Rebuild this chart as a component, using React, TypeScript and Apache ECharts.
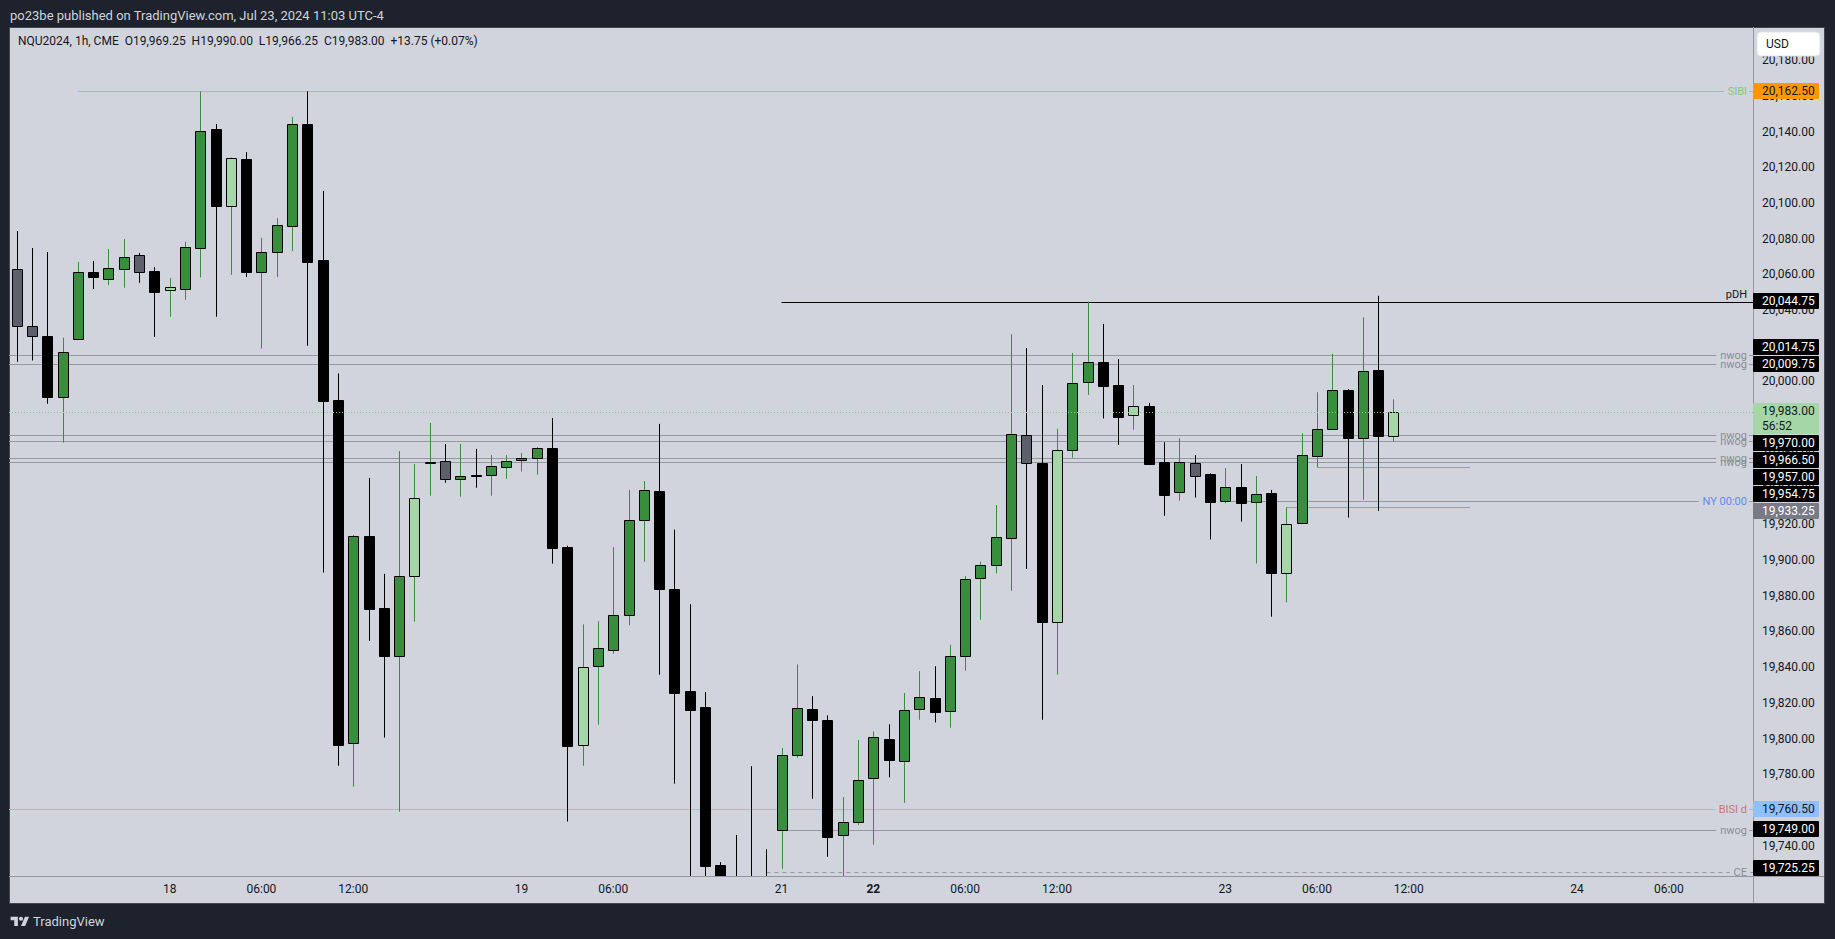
import React, { useEffect, useRef } from "react";
import * as echarts from "echarts";

const W = 1835;
const H = 939;
const FONT = "Roboto, 'Liberation Sans', sans-serif";

// ---------------- time axis (hourly CME bars) ----------------
function buildCategories(): string[] {
  const out: string[] = [];
  const pad = (n: number) => String(n).padStart(2, "0");
  for (let day = 17; day <= 24 && out.length < 114; day++) {
    for (let h = 0; h < 24 && out.length < 114; h++) {
      if (day === 17 && h < 13) continue;
      if (h === 17) continue; // daily break
      if (day === 19 && h > 17) continue; // friday close
      if (day === 20) continue; // saturday
      if (day === 21 && h < 18) continue; // sunday open
      out.push(`07-${pad(day)} ${pad(h)}:00`);
    }
  }
  return out;
}
const categories = buildCategories();

const tickLabelCats = [
  "07-18 00:00", "07-18 06:00", "07-18 12:00", "07-19 00:00", "07-19 06:00",
  "07-21 18:00", "07-22 00:00", "07-22 06:00", "07-22 12:00", "07-23 00:00",
  "07-23 06:00", "07-23 12:00", "07-24 00:00", "07-24 06:00",
];
const tickLabelTexts = ["18", "06:00", "12:00", "19", "06:00", "21", "22", "06:00", "12:00", "23", "06:00", "12:00", "24", "06:00"];
const boldTickCats = ["07-22 00:00"];

// ---------------- candles ----------------
const opens = [
  20063, 20031.25, 20025.75, 19991.5, 20024, 20061.25, 20057.5, 20063.25, 20070.75, 20062,
  20051, 20052, 20075, 20141.5, 20098.5, 20124.5, 20061.5, 20072.75, 20087.25, 20144.5,
  20068, 19989.5, 19797.25, 19913.5, 19873, 19846, 19891.25, 19954.5, 19955.25, 19945.25,
  19947.5, 19947.5, 19952, 19956, 19957, 19962.5, 19907.5, 19796.25, 19840.5, 19849.5,
  19869, 19922.5, 19938.75, 19883.5, 19826.5, 19817.5, 19729, 19712, 19710, 19706,
  19748.5, 19790.5, 19816.5, 19810.25, 19745.75, 19753, 19777.75, 19800, 19787.25, 19816.5,
  19822.5, 19815.25, 19846, 19889.75, 19897, 19912.25, 19970, 19954.25, 19865, 19961.5,
  19999.5, 20010.75, 19998, 19981.5, 19986, 19954.75, 19938, 19954.25, 19948, 19933,
  19940.75, 19932.25, 19937.5, 19893, 19920.5, 19958, 19973.25, 19995, 19968.25, 20006.5,
  19969.25,
];
const highs = [
  20084.25, 20074.75, 20072.5, 20024.5, 20067, 20067.5, 20074.25, 20079.75, 20072, 20064,
  20058, 20078.25, 20162.5, 20144.25, 20125.5, 20128.5, 20080.5, 20091.5, 20148.25, 20162.5,
  20106.75, 20004.5, 19914, 19946, 19892.25, 19961, 19953.75, 19976.75, 19965, 19965,
  19962.25, 19958.75, 19958.75, 19960, 19963.25, 19979.5, 19908, 19864, 19865.75, 19907.25,
  19939.25, 19944.25, 19976.25, 19917, 19875.25, 19826, 19730.75, 19746, 19784.5, 19738,
  19794.75, 19841.5, 19823.75, 19813, 19767.25, 19799.25, 19804, 19808, 19825.5, 19837.75,
  19840.5, 19852.5, 19891, 19899, 19930.75, 20026.5, 20018.75, 19998, 19973.5, 20016,
  20044.75, 20032.25, 20012.5, 19998, 19988, 19966, 19968.25, 19958.75, 19948.5, 19951.5,
  19953.75, 19947, 19939.25, 19929.5, 19971, 19994, 20015.5, 19995.75, 20036, 20048,
  19990,
];
const lows = [
  20011, 20011.75, 19987.5, 19965.75, 20024, 20051.75, 20054, 20052.5, 20055.25, 20025,
  20036.25, 20045.75, 20058.25, 20036.25, 20059.75, 20058.5, 20018.5, 20058.5, 20073, 20020,
  19893, 19784.75, 19773, 19854.75, 19800.5, 19759, 19865.5, 19936, 19943.25, 19935.5,
  19940.5, 19936, 19945.5, 19949.5, 19947.75, 19898, 19753.5, 19784.75, 19807.75, 19847.5,
  19863.5, 19899, 19835.75, 19774.75, 19700, 19700, 19685, 19690, 19692, 19695,
  19727, 19789.25, 19766.25, 19733.75, 19721, 19751.5, 19740.5, 19778.25, 19764, 19810.5,
  19809, 19806, 19838, 19866.5, 19892.5, 19882.75, 19895, 19810.5, 19835.75, 19957.25,
  19992.5, 19979.25, 19964.5, 19973, 19953.5, 19924.75, 19933.25, 19935, 19911.5, 19931.75,
  19921.5, 19898, 19868.25, 19876.25, 19920.5, 19952, 19973.25, 19923.75, 19933.75, 19927.5,
  19966.25,
];
const closes = [
  20031.25, 20025.75, 19991.5, 20016.5, 20061.25, 20058.25, 20063.5, 20069.5, 20061.5, 20050.25,
  20052.75, 20075.25, 20140.25, 20098.5, 20125, 20061.5, 20072.5, 20087.5, 20144.5, 20067,
  19989.25, 19796.5, 19913.5, 19872.75, 19846.5, 19891, 19934.5, 19954.75, 19945.25, 19947,
  19947.25, 19952.5, 19955.25, 19957, 19962.5, 19907, 19796, 19840, 19850.5, 19869,
  19922.5, 19939, 19883.5, 19825.75, 19816, 19728.75, 19700, 19705, 19704, 19701.5,
  19790.5, 19817, 19810.5, 19745, 19753, 19777, 19800.75, 19787.75, 19815.75, 19823.5,
  19814.75, 19846, 19889.25, 19897, 19912.75, 19970.5, 19954.25, 19865, 19961.5, 19999,
  20010.75, 19997.5, 19980.25, 19986, 19954, 19936.5, 19954.75, 19947.25, 19932.75, 19940.75,
  19931.75, 19936.75, 19892.5, 19920, 19958.75, 19973.25, 19995.5, 19968.25, 20005.75, 19969.25,
  19983,
];
// u = up (green), d = down (black), g = down (grey), l = up (light green)
const candleKinds = (
  "ggduuduugd" + "luudlduuud" + "dduddulugu" + "duuuuddluu" + "uudddddddd" +
  "uudduuuduu" + "duuuuugdlu" + "uddlddugdu" + "dudluuudud" + "l"
).split("");

// ---------------- horizontal levels ----------------
const levelPrices = [20162.5, 20044.75, 20014.75, 20009.75, 19970, 19966.5, 19957, 19954.75, 19933.25, 19760.5, 19749, 19725.25];
const levelKinds = ["sibi", "pdh", "nwog", "nwog", "nwog", "nwog", "nwog", "nwog", "ny", "bisi", "nwog", "ce"];
const levelLabels = ["SIBI", "pDH", "nwog", "nwog", "nwog", "nwog", "nwog", "nwog", "NY 00:00", "BISI d", "nwog", "CE"];
const levelStarts: (string | null)[] = [
  "07-17 18:00", "07-21 18:00", null, null, null, null, null, null, "07-23 00:00", null, "07-21 18:00", "07-19 16:00",
];
const fvgPrices = [19952, 19929.5];
const fvgStarts = ["07-23 06:00", "07-23 04:00"];
const fvgEnds = ["07-23 16:00", "07-23 16:00"];
const lastPrice = closes[closes.length - 1];
const countdown = "56:52";

const LEVEL_STYLE: Record<string, any> = {
  sibi: { line: "#f2a650", dash: null, text: "#7fc982", box: "#ff9800", boxText: "#131722" },
  pdh: { line: "#000000", dash: null, text: "#131722", box: "#000000", boxText: "#ffffff", above: true },
  nwog: { line: "#9598a1", dash: null, text: "#8a8d96", box: "#000000", boxText: "#ffffff" },
  ny: { line: "#9598a1", dash: null, text: "#5b8def", box: "#787b86", boxText: "#ffffff" },
  bisi: { line: "#90bff9", dash: null, text: "#c4777f", box: "#90bff9", boxText: "#131722" },
  ce: { line: "#9598a1", dash: [4, 4], text: "#8a8d96", box: "#000000", boxText: "#ffffff" },
};
const LAST_STYLE = { line: "#7ccf80", dash: [1, 2], box: "#a5d6a7", boxText: "#131722" };
const CANDLE_STYLE: Record<string, { fill: string; wick: string }> = {
  u: { fill: "#388e3c", wick: "#388e3c" },
  d: { fill: "#000000", wick: "#000000" },
  g: { fill: "#5d606b", wick: "#000000" },
  l: { fill: "#a5d6a7", wick: "#388e3c" },
};

const PANEL = { x: 9, y: 27, w: 1815, h: 876 };
const GRID = { left: 9, top: 28, width: 1744, height: 848 };
const AXIS_X = GRID.left + GRID.width;
const PLOT_BOTTOM = GRID.top + GRID.height;
const BG = "#d1d4dc";
const LABEL_FONT = `11px ${FONT}`;

const fmt = (v: number) => v.toLocaleString("en-US", { minimumFractionDigits: 2, maximumFractionDigits: 2 });
const catIndex = (c: string) => categories.indexOf(c);

function measure(text: string, font: string): number {
  const ctx = document.createElement("canvas").getContext("2d");
  if (!ctx) return text.length * 6;
  ctx.font = font;
  return ctx.measureText(text).width;
}

echarts.graphic.registerShape(
  "tvlogo",
  echarts.graphic.extendPath("M14 22H7V11H0V4h14v18zM28 22h-8l7.5-18h8L28 22zM24 8a4 4 0 1 1-8 0a4 4 0 1 1 8 0z", {})
);

function buildOption(): any {
  const candleData = opens.map((o, i) => [i, o, closes[i], lows[i], highs[i]]);
  return {
    animation: false,
    backgroundColor: "#1e222d",
    textStyle: { fontFamily: FONT },
    grid: { ...GRID, containLabel: false, outerBoundsMode: "none" },
    xAxis: {
      type: "category",
      data: categories,
      boundaryGap: true,
      axisLine: { show: false },
      axisTick: { show: false },
      splitLine: { show: false },
      axisLabel: {
        interval: (i: number) => tickLabelCats.indexOf(categories[i]) >= 0,
        formatter: (v: string) => {
          const k = tickLabelCats.indexOf(v);
          if (k < 0) return "";
          return boldTickCats.indexOf(v) >= 0 ? `{b|${tickLabelTexts[k]}}` : tickLabelTexts[k];
        },
        color: "#131722",
        fontSize: 12,
        fontFamily: FONT,
        margin: 7,
        rich: { b: { fontWeight: "bold", fontSize: 12, color: "#131722", fontFamily: FONT } },
      },
    },
    yAxis: {
      type: "value",
      position: "right",
      min: 19723,
      max: 20198,
      splitNumber: 24,
      axisLine: { show: false },
      axisTick: { show: false },
      splitLine: { show: false },
      axisLabel: {
        color: "#131722",
        fontSize: 12,
        fontFamily: FONT,
        margin: 9,
        showMinLabel: false,
        showMaxLabel: false,
        formatter: (v: number) => fmt(v),
      },
    },
    series: [
      {
        type: "custom",
        name: "levels",
        z: 1,
        silent: true,
        clip: false,
        data: levelPrices.map((p, i) => [levelStarts[i] ? catIndex(levelStarts[i] as string) : 0, p, i]),
        encode: { x: 0, y: 1 },
        renderItem: (params: any, api: any) => {
          const i = api.value(2);
          const st = LEVEL_STYLE[levelKinds[i]];
          const cs = params.coordSys;
          const pt = api.coord([api.value(0), api.value(1)]);
          const x1 = levelStarts[i] ? pt[0] : cs.x;
          const yy = Math.round(pt[1]) + 0.5;
          return {
            type: "line",
            shape: { x1, y1: yy, x2: cs.x + cs.width, y2: yy },
            style: { stroke: st.line, lineWidth: 1, lineDash: st.dash || undefined },
          };
        },
      },
      {
        type: "custom",
        name: "fvg",
        z: 1,
        silent: true,
        data: fvgPrices.map((p, i) => [catIndex(fvgStarts[i]), p, catIndex(fvgEnds[i])]),
        encode: { x: 0, y: 1 },
        renderItem: (params: any, api: any) => {
          const a = api.coord([api.value(0), api.value(1)]);
          const b = api.coord([api.value(2), api.value(1)]);
          const yy = Math.round(a[1]) + 0.5;
          return {
            type: "line",
            shape: { x1: a[0], y1: yy, x2: b[0], y2: yy },
            style: { stroke: "#e8893c", lineWidth: 1 },
          };
        },
      },
      {
        type: "custom",
        name: "NQU2024",
        z: 2,
        clip: true,
        data: candleData,
        encode: { x: 0, y: [1, 2, 3, 4] },
        renderItem: (params: any, api: any) => {
          const i = api.value(0);
          const o = api.value(1), c = api.value(2), l = api.value(3), h = api.value(4);
          const st = CANDLE_STYLE[candleKinds[params.dataIndex]];
          const pO = api.coord([i, o]);
          const pC = api.coord([i, c]);
          const pH = api.coord([i, h]);
          const pL = api.coord([i, l]);
          const band = api.size([1, 0])[0];
          const bw = Math.round(band * 0.66);
          const cx = Math.round(pO[0]);
          const top = Math.round(Math.min(pO[1], pC[1]));
          const bot = Math.round(Math.max(pO[1], pC[1]));
          return {
            type: "group",
            children: [
              {
                type: "line",
                shape: { x1: cx + 0.5, y1: pH[1], x2: cx + 0.5, y2: pL[1] },
                style: { stroke: st.wick, lineWidth: 1 },
              },
              {
                type: "rect",
                shape: { x: cx - bw / 2 + 0.5, y: top + 0.5, width: bw, height: Math.max(bot - top, 1) },
                style: { fill: st.fill, stroke: "#000000", lineWidth: 1 },
              },
            ],
          };
        },
      },
      {
        type: "custom",
        name: "last",
        z: 3,
        silent: true,
        data: [[0, lastPrice]],
        encode: { x: 0, y: 1 },
        renderItem: (params: any, api: any) => {
          const cs = params.coordSys;
          const p = api.coord([0, api.value(1)]);
          const yy = Math.round(p[1]) + 0.5;
          return {
            type: "line",
            shape: { x1: cs.x, y1: yy, x2: cs.x + cs.width, y2: yy },
            style: { stroke: LAST_STYLE.line, lineWidth: 1, lineDash: LAST_STYLE.dash },
          };
        },
      },
    ],
  };
}

function buildGraphics(chart: any): any[] {
  const g: any[] = [];
  const py = (p: number) => chart.convertToPixel({ yAxisIndex: 0 }, p) as number;

  // panel
  g.push({
    type: "rect", z: -10, silent: true,
    shape: { x: PANEL.x + 0.5, y: PANEL.y + 0.5, width: PANEL.w, height: PANEL.h },
    style: { fill: BG, stroke: "#434651", lineWidth: 1 },
  });
  // separators
  g.push({
    type: "line", z: 5, silent: true,
    shape: { x1: AXIS_X + 0.5, y1: PANEL.y, x2: AXIS_X + 0.5, y2: PANEL.y + PANEL.h },
    style: { stroke: "#9598a1", lineWidth: 1 },
  });
  g.push({
    type: "line", z: 5, silent: true,
    shape: { x1: PANEL.x, y1: PLOT_BOTTOM + 0.5, x2: PANEL.x + PANEL.w, y2: PLOT_BOTTOM + 0.5 },
    style: { stroke: "#9598a1", lineWidth: 1 },
  });
  // header
  g.push({
    type: "text", z: 30, silent: true, x: 10, y: 15,
    style: {
      text: "po23be published on TradingView.com, Jul 23, 2024 11:03 UTC-4",
      fill: BG, font: `13px ${FONT}`, textAlign: "left", textVerticalAlign: "middle",
    },
  });
  g.push({
    type: "text", z: 30, silent: true, x: 18, y: 41,
    style: {
      text: "NQU2024, 1h, CME  O19,969.25  H19,990.00  L19,966.25  C19,983.00  +13.75 (+0.07%)",
      fill: "#131722", font: `12px ${FONT}`, textAlign: "left", textVerticalAlign: "middle",
    },
  });
  // USD box
  g.push({
    type: "rect", z: 40, silent: true,
    shape: { x: 1757, y: 32, width: 63, height: 24, r: 4 },
    style: { fill: "#ffffff", stroke: "#e0e3eb", lineWidth: 1 },
  });
  g.push({
    type: "text", z: 41, silent: true, x: 1766, y: 44,
    style: { text: "USD", fill: "#131722", font: `12px ${FONT}`, textAlign: "left", textVerticalAlign: "middle" },
  });
  // logo
  g.push({ type: "tvlogo", z: 30, silent: true, x: 10.6, y: 914.6, scaleX: 0.52, scaleY: 0.52, style: { fill: BG } });
  g.push({
    type: "text", z: 30, silent: true, x: 33, y: 921.5,
    style: { text: "TradingView", fill: BG, font: `13px ${FONT}`, textAlign: "left", textVerticalAlign: "middle" },
  });

  // level labels left of the price scale: rectangular masks first, then the texts
  const labelRight = AXIS_X - 6;
  levelPrices.forEach((p, i) => {
    const st = LEVEL_STYLE[levelKinds[i]];
    const y = Math.round(py(p)) + 0.5;
    if (st.above) {
      g.push({
        type: "text", z: 11, silent: true, x: labelRight, y: y - 3,
        style: { text: levelLabels[i], fill: st.text, font: LABEL_FONT, textAlign: "right", textVerticalAlign: "bottom" },
      });
    } else {
      const w = measure(levelLabels[i], LABEL_FONT);
      g.push({
        type: "rect", z: 10, silent: true,
        shape: { x: labelRight - w - 4, y: y - 3, width: w + 6, height: 6 },
        style: { fill: BG },
      });
      g.push({
        type: "text", z: 11, silent: true, x: labelRight, y,
        style: { text: levelLabels[i], fill: st.text, font: LABEL_FONT, textAlign: "right", textVerticalAlign: "middle" },
      });
    }
  });

  // price boxes with collision handling (current price box anchored)
  type Box = { y: number; slot: number; top: number; lines: string[]; fill: string; color: string; anchor: boolean };
  const boxes: Box[] = levelPrices.map((p, i) => {
    const st = LEVEL_STYLE[levelKinds[i]];
    const y = py(p);
    return { y, slot: 17, top: y - 8.5, lines: [fmt(p)], fill: st.box, color: st.boxText, anchor: false };
  });
  const ly = py(lastPrice);
  boxes.push({ y: ly, slot: 32, top: ly - 8.5, lines: [fmt(lastPrice), countdown], fill: LAST_STYLE.box, color: LAST_STYLE.boxText, anchor: true });
  boxes.sort((a, b) => a.y - b.y);
  const a = boxes.findIndex((b) => b.anchor);
  for (let i = a + 1; i < boxes.length; i++) {
    const prevBottom = boxes[i - 1].top + boxes[i - 1].slot;
    if (boxes[i].top < prevBottom) boxes[i].top = prevBottom;
  }
  for (let i = a - 1; i >= 0; i--) {
    const nextTop = boxes[i + 1].top;
    if (boxes[i].top + boxes[i].slot > nextTop) boxes[i].top = nextTop - boxes[i].slot;
  }
  for (let i = boxes.length - 1; i >= 0; i--) {
    const limit = i === boxes.length - 1 ? PLOT_BOTTOM + 0.5 : boxes[i + 1].top;
    if (boxes[i].top + boxes[i].slot > limit) boxes[i].top = limit - boxes[i].slot;
  }
  boxes.forEach((b) => {
    const top = Math.round(b.top);
    const h = b.slot - 1;
    g.push({
      type: "rect", z: 20, silent: true,
      shape: { x: AXIS_X, y: top, width: 66, height: h, r: 1 },
      style: { fill: b.fill },
    });
    b.lines.forEach((t, k) => {
      g.push({
        type: "text", z: 21, silent: true, x: 1762, y: top + 8 + k * 15,
        style: { text: t, fill: b.color, font: `12px ${FONT}`, textAlign: "left", textVerticalAlign: "middle" },
      });
    });
  });
  return g;
}

export default function App() {
  const ref = useRef<HTMLDivElement>(null);
  useEffect(() => {
    const el = ref.current as HTMLDivElement;
    const chart = echarts.init(el, null, { renderer: "svg" });
    chart.setOption(buildOption());
    chart.setOption({ graphic: buildGraphics(chart) });
    return () => chart.dispose();
  }, []);
  return <div ref={ref} style={{ position: "fixed", left: 0, top: 0, width: W, height: H }} />;
}
